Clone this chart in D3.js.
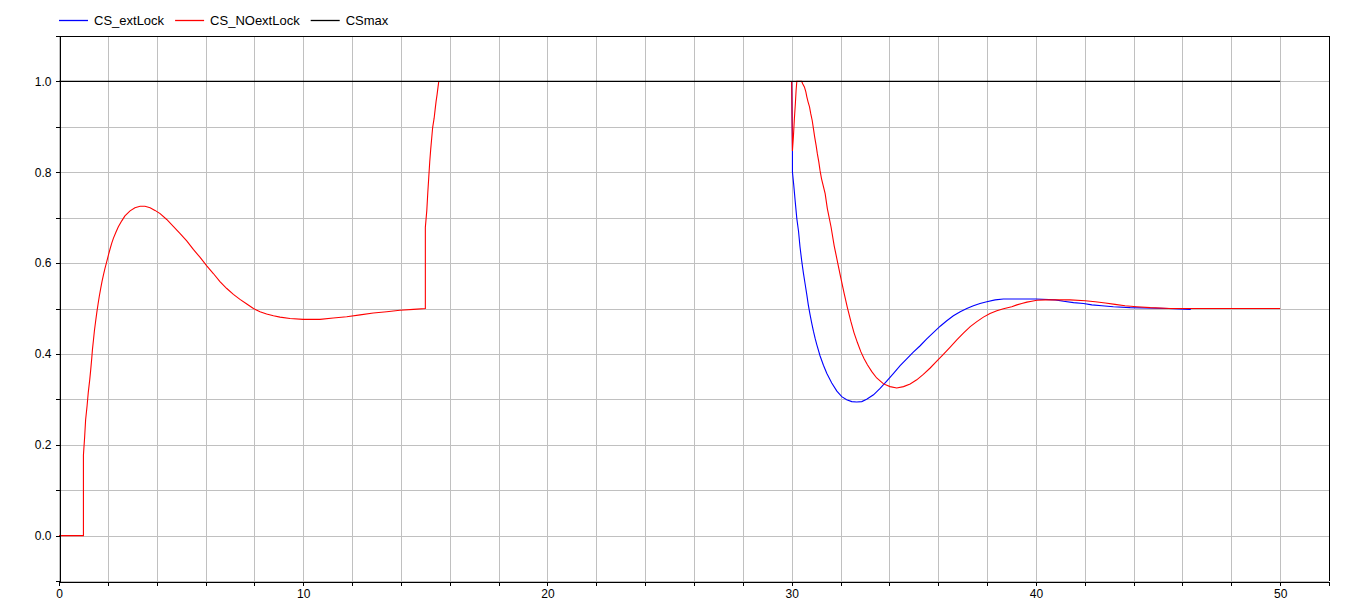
<!DOCTYPE html>
<html>
<head>
<meta charset="utf-8">
<script src="https://cdn.jsdelivr.net/npm/d3@7/dist/d3.min.js"></script>
<style>
  html, body { margin: 0; padding: 0; background: #fff; }
  svg { display: block; }
  text { font-family: "Liberation Sans", Arial, sans-serif; fill: #000; }
</style>
</head>
<body>
<svg id="chart" width="1354" height="606"></svg>
<script>
// ---------------- DATA ----------------
const seriesNames = ["CS_extLock", "CS_NOextLock", "CSmax"];
const seriesColors = ["#0000ff", "#ff0000", "#000000"];

// start-up phase (both controllers identical; CS_NOextLock drawn on top)
const startPhase = [
  [0,0],[1.0,0],[1.0,0.177],[1.05,0.217],[1.09,0.255],[1.15,0.286],[1.2,0.316],[1.26,0.344],
  [1.3,0.366],[1.34,0.39],[1.37,0.41],[1.41,0.43],[1.45,0.451],[1.5,0.472],[1.55,0.492],
  [1.6,0.51],[1.65,0.527],[1.71,0.545],[1.76,0.559],[1.82,0.574],[1.88,0.588],
  [1.95,0.602],[2.02,0.617],[2.09,0.631],[2.16,0.644],[2.23,0.655],[2.33,0.668],[2.43,0.68],
  [2.57,0.693],[2.7,0.704],[2.91,0.715],[3.11,0.722],[3.32,0.725],[3.52,0.725],[3.73,0.722],
  [3.93,0.716],[4.14,0.709],[4.41,0.696],[4.68,0.681],[4.96,0.665],[5.23,0.649],[5.5,0.63],
  [5.77,0.613],[6.05,0.594],[6.32,0.577],[6.59,0.559],[6.87,0.544],[7.14,0.531],[7.41,0.52],
  [7.69,0.51],[7.96,0.5],[8.23,0.493],[8.5,0.488],[8.78,0.484],[9.05,0.481],[9.46,0.478],
  [10.0,0.476],[10.69,0.476],[11.23,0.479],[11.78,0.482],[12.33,0.486],[12.87,0.49],
  [13.42,0.493],[13.96,0.496],[14.51,0.498],[15.0,0.5],[15.0,0.679],[15.06,0.716],[15.1,0.755],
  [15.14,0.789],[15.18,0.823],[15.22,0.851],[15.26,0.875],[15.3,0.899],[15.36,0.919],
  [15.4,0.938],[15.44,0.956],[15.48,0.971],[15.52,0.988],[15.55,1.0]
];

// CS_extLock after t = 30
const blueAfter30 = [
  [30.0,1.0],[30.03,0.847],[30.03,0.801],[30.085,0.771],[30.14,0.738],[30.21,0.698],[30.28,0.67],
  [30.34,0.636],[30.41,0.605],[30.48,0.578],[30.55,0.554],[30.62,0.53],[30.68,0.508],
  [30.75,0.487],[30.82,0.468],[30.89,0.45],[30.96,0.434],[31.03,0.42],[31.16,0.396],
  [31.3,0.375],[31.44,0.357],[31.64,0.336],[31.85,0.318],[32.05,0.306],[32.25,0.299],
  [32.46,0.295],[32.66,0.294],[32.87,0.295],[33.07,0.3],[33.35,0.31],[33.62,0.324],
  [33.89,0.34],[34.17,0.357],[34.44,0.374],[34.71,0.389],[34.98,0.404],[35.26,0.418],
  [35.53,0.433],[35.8,0.447],[36.08,0.461],[36.35,0.473],[36.62,0.484],[36.9,0.493],
  [37.17,0.5],[37.44,0.506],[37.71,0.511],[37.99,0.515],[38.33,0.519],[38.67,0.521],
  [40.0,0.521],[40.79,0.519],[41.13,0.516],[41.54,0.513],[41.95,0.511],[42.29,0.508],
  [42.7,0.506],[43.17,0.504],[43.86,0.502],[45.43,0.5],[46.34,0.498]
];

// CS_NOextLock after t = 30
const redAfter30 = [
  [30.0,1.0],[30.03,0.847],[30.07,0.878],[30.11,0.918],[30.15,0.951],[30.18,0.98],[30.21,1.0],
  [30.41,1.0],[30.45,0.995],[30.52,0.988],[30.58,0.977],[30.62,0.966],[30.67,0.955],
  [30.73,0.944],[30.78,0.929],[30.84,0.914],[30.89,0.896],[30.94,0.878],[31.0,0.859],
  [31.05,0.841],[31.11,0.823],[31.16,0.804],[31.22,0.786],[31.37,0.753],[31.46,0.72],
  [31.61,0.68],[31.74,0.638],[31.89,0.599],[32.0,0.57],[32.15,0.533],[32.28,0.502],
  [32.42,0.472],[32.55,0.447],[32.69,0.425],[32.83,0.405],[32.96,0.39],[33.1,0.376],
  [33.28,0.361],[33.48,0.347],[33.76,0.334],[34.03,0.328],[34.3,0.325],[34.58,0.328],
  [34.85,0.334],[35.12,0.343],[35.39,0.355],[35.67,0.369],[35.94,0.384],[36.21,0.399],
  [36.49,0.415],[36.76,0.431],[37.03,0.446],[37.31,0.46],[37.58,0.471],[37.85,0.481],
  [38.12,0.489],[38.4,0.495],[38.67,0.4995],[39.01,0.504],
  [39.22,0.508],[39.42,0.511],[39.63,0.514],[39.83,0.516],[40.04,0.518],[40.38,0.519],
  [41.4,0.519],[42.02,0.517],[42.43,0.515],[42.84,0.512],[43.24,0.509],[43.65,0.506],
  [44.13,0.504],[44.68,0.502],[45.5,0.5],[50.0,0.5]
];

// CSmax limit
const csMax = [[0,1.0],[50,1.0]];

const xDomain = [0, 52];
const yDomain = [-0.1, 1.1];
const xTickValues = d3.range(0, 53, 2);
const xLabelValues = [0, 10, 20, 30, 40, 50];
const yTickValues = d3.range(-1, 12).map(i => +(i * 0.1).toFixed(1));
const yLabelValues = [0.0, 0.2, 0.4, 0.6, 0.8, 1.0];

// ---------------- CHART ----------------
const svg = d3.select("#chart");
const M = { left: 59, right: 1329, top: 36, bottom: 581 };

const x = d3.scaleLinear().domain(xDomain).range([M.left, M.right]);
const y = d3.scaleLinear().domain(yDomain).range([M.bottom, M.top]);

svg.append("defs").append("clipPath").attr("id", "clip")
  .append("rect").attr("x", M.left).attr("y", M.top)
  .attr("width", M.right - M.left).attr("height", M.bottom - M.top);

// grid
const grid = svg.append("g").attr("stroke", "#c0c0c0").attr("stroke-width", 1)
  .attr("shape-rendering", "crispEdges");
grid.selectAll("line.gx").data(xTickValues).join("line")
  .attr("x1", d => Math.round(x(d)) + 0.5).attr("x2", d => Math.round(x(d)) + 0.5)
  .attr("y1", M.top).attr("y2", M.bottom);
grid.selectAll("line.gy").data(yTickValues).join("line")
  .attr("y1", d => Math.round(y(d)) + 0.5).attr("y2", d => Math.round(y(d)) + 0.5)
  .attr("x1", M.left).attr("x2", M.right);

// series
const line = d3.line().x(d => x(d[0])).y(d => y(d[1]));
const plotG = svg.append("g").attr("clip-path", "url(#clip)");
const drawSeries = (data, i) => plotG.append("path").datum(data)
  .attr("fill", "none").attr("stroke", seriesColors[i]).attr("stroke-width", 1.1)
  .attr("d", line);
drawSeries(blueAfter30, 0);
drawSeries(startPhase, 1);
drawSeries(redAfter30, 1);
drawSeries(csMax, 2);

// axes
const xAxis = d3.axisBottom(x).tickValues(xTickValues).tickSize(4).tickSizeOuter(0)
  .tickFormat(d => xLabelValues.includes(d) ? d3.format("d")(d) : "");
const gx = svg.append("g").attr("transform", `translate(0,${M.bottom + 0.5})`).call(xAxis);
const yAxis = d3.axisLeft(y).tickValues(yTickValues).tickSize(4).tickSizeOuter(0)
  .tickFormat(d => yLabelValues.some(v => Math.abs(v - d) < 1e-9) ? d3.format(".1f")(d) : "");
const gy = svg.append("g").attr("transform", `translate(${M.left + 0.5},0)`).call(yAxis);
[gx, gy].forEach(g => {
  g.selectAll("path, line").attr("stroke", "#000").attr("shape-rendering", "crispEdges");
  g.selectAll("text").style("font-size", "12px").style("font-family", '"Liberation Sans", Arial, sans-serif').attr("fill", "#000");
});
gx.selectAll("text").attr("y", 8);
gy.selectAll("text").attr("x", -8);

// frame: top and right
svg.append("line").attr("x1", M.left).attr("x2", M.right + 0.5)
  .attr("y1", M.top + 0.5).attr("y2", M.top + 0.5)
  .attr("stroke", "#000").attr("shape-rendering", "crispEdges");
svg.append("line").attr("x1", M.right + 0.5).attr("x2", M.right + 0.5)
  .attr("y1", M.top).attr("y2", M.bottom)
  .attr("stroke", "#000").attr("shape-rendering", "crispEdges");

// legend
const leg = svg.append("g");
let lx = 59;
seriesNames.forEach((name, i) => {
  leg.append("line").attr("x1", lx).attr("x2", lx + 29).attr("y1", 20.5).attr("y2", 20.5)
    .attr("stroke", seriesColors[i]).attr("stroke-width", 1.3);
  const t = leg.append("text").attr("x", lx + 35).attr("y", 25)
    .style("font-size", "13px").text(name);
  lx = lx + 35 + t.node().getComputedTextLength() + 11;
});
</script>
</body>
</html>
